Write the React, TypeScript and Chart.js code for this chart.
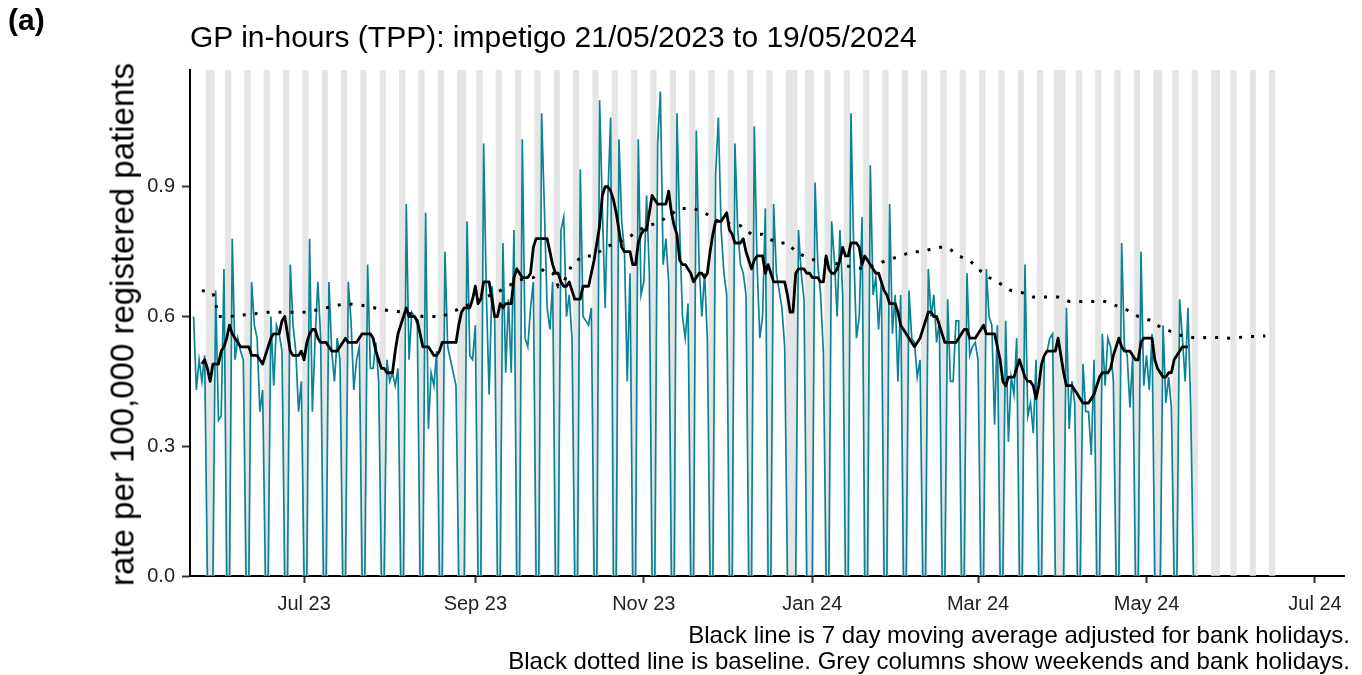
import React, { useEffect, useRef } from "react";
import { Chart, registerables } from "chart.js";

Chart.register(...registerables);

const FONT = "'Liberation Sans', Arial, Helvetica, sans-serif";

// Day index 0 = Sunday 21/05/2023
const dataStartDay = 1; // Monday 22/05/2023
// Daily rate per 100,000 (Mon..Sun rows)
const dailyRate = [
  0.60, 0.43, 0.50, 0.45, 0.51, 0, 0,
  0, 0.66, 0.36, 0.37, 0.71, 0, 0,
  0.78, 0.50, 0.55, 0.52, 0.50, 0, 0,
  0.68, 0.58, 0.55, 0.38, 0.43, 0, 0,
  0.60, 0.44, 0.58, 0.56, 0.52, 0, 0,
  0.72, 0.58, 0.52, 0.38, 0.45, 0, 0,
  0.78, 0.38, 0.55, 0.68, 0.55, 0, 0,
  0.68, 0.52, 0.45, 0.55, 0.50, 0, 0,
  0.68, 0.59, 0.43, 0.50, 0.53, 0, 0,
  0.72, 0.48, 0.48, 0.54, 0.45, 0, 0,
  0.50, 0.45, 0.47, 0.44, 0.48, 0, 0,
  0.86, 0.50, 0.61, 0.60, 0.58, 0, 0,
  0.84, 0.34, 0.47, 0.44, 0.52, 0, 0,
  0.75, 0.53, 0.50, 0.47, 0.44, 0, 0,
  0, 0.82, 0.51, 0.50, 0.58, 0, 0,
  1.00, 0.65, 0.42, 0.67, 0.60, 0, 0,
  0.77, 0.47, 0.64, 0.47, 0.80, 0, 0,
  1.01, 0.55, 0.53, 0.62, 0.68, 0, 0,
  1.07, 0.85, 0.62, 0.57, 0.68, 0, 0,
  0.80, 0.83, 0.60, 0.65, 0.55, 0, 0,
  0.94, 0.60, 0.59, 0.58, 0.62, 0, 0,
  1.10, 0.85, 0.62, 0.88, 1.06, 0, 0,
  1.01, 0.82, 0.75, 0.45, 0.70, 0, 0,
  1.01, 0.65, 0.68, 0.88, 0.70, 0, 0,
  1.00, 1.12, 0.72, 0.78, 0.68, 0, 0,
  1.07, 0.80, 0.60, 0.55, 0.63, 0, 0,
  1.03, 0.72, 0.60, 0.70, 0.55, 0, 0,
  0.93, 1.06, 0.80, 0.70, 0.65, 0, 0,
  1.00, 0.80, 0.72, 0.70, 0.65, 0, 0,
  1.04, 0.72, 0.55, 0.60, 0.85, 0, 0,
  0.86, 0.70, 0.66, 0.62, 0.53, 0, 0,
  0, 0, 0.80, 0.70, 0.64, 0, 0,
  0, 0.91, 0.72, 0.65, 0.52, 0, 0,
  0.82, 0.73, 0.60, 0.80, 0.65, 0, 0,
  1.07, 0.75, 0.55, 0.60, 0.83, 0, 0,
  0.95, 0.65, 0.69, 0.57, 0.68, 0, 0,
  0.86, 0.56, 0.65, 0.45, 0.65, 0, 0,
  0.66, 0.55, 0.54, 0.46, 0.50, 0, 0,
  0.71, 0.60, 0.65, 0.54, 0.59, 0, 0,
  0.64, 0.45, 0.45, 0.59, 0.59, 0, 0,
  0.70, 0.51, 0.53, 0.54, 0.50, 0, 0,
  0.71, 0.60, 0.58, 0.35, 0.58, 0, 0,
  0.59, 0.31, 0.46, 0.42, 0.55, 0, 0,
  0.72, 0.37, 0.40, 0.33, 0.50, 0, 0,
  0.51, 0.52, 0.55, 0.56, 0, 0, 0,
  0, 0.62, 0.34, 0.45, 0.40, 0, 0,
  0.49, 0.38, 0.38, 0.28, 0.50, 0, 0,
  0.56, 0.44, 0.55, 0.53, 0.45, 0, 0,
  0.77, 0.53, 0.51, 0.39, 0.51, 0, 0,
  0.75, 0.44, 0.51, 0.43, 0.56, 0, 0,
  0, 0.58, 0.40, 0.46, 0.39, 0, 0,
  0.64, 0.55, 0.45, 0.62, 0.39, 0, 0,
];

// 7 day moving average (adjusted for bank holidays), from day 4
const maStartDay = 4;
const movingAvg = [
  0.49, 0.50, 0.48, 0.45, 0.49, 0.49, 0.49,
  0.52, 0.53, 0.55, 0.58, 0.56, 0.55, 0.54,
  0.53, 0.53, 0.53, 0.53, 0.51, 0.51, 0.51,
  0.50, 0.49, 0.51, 0.53, 0.55, 0.56, 0.56,
  0.56, 0.59, 0.60, 0.56, 0.52, 0.51, 0.51,
  0.51, 0.52, 0.50, 0.54, 0.56, 0.57, 0.57,
  0.55, 0.54, 0.54, 0.54, 0.53, 0.52, 0.52,
  0.52, 0.53, 0.54, 0.55, 0.54, 0.54, 0.54,
  0.54, 0.55, 0.56, 0.56, 0.56, 0.56, 0.55,
  0.52, 0.50, 0.48, 0.48, 0.47, 0.47, 0.47,
  0.52, 0.56, 0.58, 0.60, 0.62, 0.60, 0.60,
  0.60, 0.59, 0.56, 0.53, 0.53, 0.53, 0.52,
  0.51, 0.51, 0.52, 0.54, 0.54, 0.54, 0.54,
  0.54, 0.54, 0.58, 0.61, 0.62, 0.62, 0.62,
  0.64, 0.67, 0.63, 0.64, 0.68, 0.68, 0.68,
  0.64, 0.60, 0.60, 0.63, 0.62, 0.63, 0.63,
  0.63, 0.69, 0.71, 0.70, 0.69, 0.69, 0.69,
  0.70, 0.76, 0.78, 0.78, 0.78, 0.78, 0.78,
  0.75, 0.72, 0.70, 0.70, 0.68, 0.67, 0.67,
  0.68, 0.66, 0.64, 0.64, 0.64, 0.67, 0.67,
  0.67, 0.70, 0.73, 0.77, 0.81, 0.88, 0.90,
  0.90, 0.89, 0.87, 0.84, 0.80, 0.76, 0.75,
  0.75, 0.75, 0.72, 0.72, 0.77, 0.79, 0.80,
  0.80, 0.84, 0.88, 0.87, 0.86, 0.86, 0.86,
  0.86, 0.89, 0.84, 0.81, 0.79, 0.73, 0.72,
  0.72, 0.71, 0.70, 0.68, 0.69, 0.70, 0.70,
  0.69, 0.70, 0.75, 0.79, 0.82, 0.82, 0.82,
  0.83, 0.84, 0.80, 0.79, 0.77, 0.77, 0.77,
  0.78, 0.75, 0.73, 0.71, 0.73, 0.74, 0.74,
  0.74, 0.70, 0.72, 0.70, 0.68, 0.68, 0.68,
  0.68, 0.68, 0.65, 0.61, 0.61, 0.70, 0.71,
  0.71, 0.71, 0.70, 0.70, 0.69, 0.69, 0.69,
  0.68, 0.68, 0.74, 0.71, 0.70, 0.70, 0.71,
  0.73, 0.76, 0.74, 0.74, 0.77, 0.77, 0.77,
  0.76, 0.72, 0.74, 0.73, 0.72, 0.71, 0.70,
  0.70, 0.68, 0.66, 0.65, 0.63, 0.63, 0.63,
  0.61, 0.58, 0.57, 0.56, 0.55, 0.54, 0.53,
  0.54, 0.55, 0.57, 0.59, 0.61, 0.61, 0.60,
  0.60, 0.58, 0.56, 0.54, 0.54, 0.54, 0.54,
  0.54, 0.55, 0.56, 0.57, 0.57, 0.55, 0.55,
  0.55, 0.56, 0.57, 0.58, 0.56, 0.56, 0.56,
  0.56, 0.53, 0.50, 0.45, 0.44, 0.46, 0.46,
  0.46, 0.48, 0.50, 0.48, 0.46, 0.45, 0.45,
  0.44, 0.41, 0.44, 0.49, 0.51, 0.52, 0.52,
  0.52, 0.52, 0.55, 0.51, 0.47, 0.44, 0.44,
  0.44, 0.43, 0.42, 0.41, 0.40, 0.40, 0.40,
  0.41, 0.42, 0.44, 0.46, 0.47, 0.47, 0.47,
  0.48, 0.51, 0.53, 0.55, 0.53, 0.52, 0.52,
  0.52, 0.51, 0.50, 0.50, 0.54, 0.55, 0.55,
  0.55, 0.55, 0.50, 0.48, 0.47, 0.46, 0.46,
  0.47, 0.47, 0.50, 0.51, 0.52, 0.53, 0.53,
  0.53,
];

// Baseline (dotted), read at these days
const baselineDays = [
  4, 8, 9, 10, 14, 21, 28, 35, 42, 49, 56, 63, 70, 77, 84, 91, 98, 105, 112, 119,
  124, 128, 131, 133, 135, 138, 142, 146, 150, 154, 158, 162, 166, 170, 177, 182, 186, 191,
  199, 203, 207, 212, 216, 219, 222, 226, 230, 235, 239, 244, 248, 252, 257, 261, 265, 270,
  274, 278, 282, 285, 289, 292, 297, 301, 305, 310, 314, 318, 322, 327, 331, 335, 339, 343,
  348, 351, 355, 359, 364, 370, 376, 382, 389,
];
const baselineValues = [
  0.66, 0.655, 0.63, 0.60, 0.60, 0.605, 0.61, 0.61, 0.61, 0.62, 0.63, 0.625, 0.615, 0.61, 0.60, 0.60, 0.62, 0.64, 0.66, 0.685,
  0.69, 0.71, 0.70, 0.67, 0.68, 0.72, 0.74, 0.74, 0.76, 0.77, 0.78, 0.80, 0.81, 0.82, 0.85, 0.85, 0.84, 0.82,
  0.81, 0.79, 0.79, 0.77, 0.77, 0.75, 0.74, 0.73, 0.73, 0.72, 0.715, 0.71, 0.72, 0.73, 0.74, 0.75, 0.75, 0.76,
  0.76, 0.74, 0.73, 0.71, 0.69, 0.68, 0.66, 0.655, 0.645, 0.645, 0.645, 0.635, 0.635, 0.635, 0.635, 0.625, 0.615, 0.60,
  0.59, 0.575, 0.565, 0.555, 0.55, 0.552, 0.55, 0.553, 0.555,
];

// Weekends and bank holidays (day index)
const greyDays = [
  6, 7, 8, 13, 14, 20, 21, 27, 28, 34, 35, 41, 42, 48, 49, 55, 56, 62, 63, 69, 70, 76, 77,
  83, 84, 90, 91, 97, 98, 99, 104, 105, 111, 112, 118, 119, 125, 126, 132, 133, 139, 140,
  146, 147, 153, 154, 160, 161, 167, 168, 174, 175, 181, 182, 188, 189, 195, 196, 202, 203,
  209, 210, 216, 217, 218, 219, 223, 224, 225, 230, 231, 237, 238, 244, 245, 251, 252, 258,
  259, 265, 266, 272, 273, 279, 280, 286, 287, 293, 294, 300, 301, 307, 308, 313, 314, 315,
  316, 321, 322, 328, 329, 335, 336, 342, 343, 349, 350, 351, 356, 357, 363, 364, 370, 371,
  372, 377, 378, 384, 385, 391, 392,
];

const tickDays = [41, 103, 164, 225, 285, 346, 407];
const tickLabels = ["Jul 23", "Sep 23", "Nov 23", "Jan 24", "Mar 24", "May 24", "Jul 24"];
const yTicks = [0, 0.3, 0.6, 0.9];

const X_MIN = -0.3;
const X_MAX = 417.5;
const Y_MAX = 1.17;

export default function App() {
  const ref = useRef<HTMLCanvasElement>(null);

  useEffect(() => {
    document.body.style.margin = "0";
    const canvas = ref.current;
    if (!canvas) return;
    const chart = new Chart(canvas, {
      type: "line",
      data: {
        datasets: [
          {
            type: "line",
            label: "baseline",
            data: baselineDays.map((d, i) => ({ x: d, y: baselineValues[i] })),
            borderColor: "#000000",
            borderWidth: 3,
            borderDash: [3, 9],
            borderCapStyle: "butt",
            pointRadius: 0,
            fill: false,
            tension: 0,
            order: 0,
          },
          {
            type: "line",
            label: "7 day moving average",
            data: movingAvg.map((v, i) => ({ x: maStartDay + i, y: v })),
            borderColor: "#000000",
            borderWidth: 2.8,
            borderJoinStyle: "round",
            pointRadius: 0,
            fill: false,
            tension: 0,
            order: 1,
          },
          {
            type: "line",
            label: "daily rate",
            data: dailyRate.map((v, i) => ({ x: dataStartDay + i, y: v })),
            borderColor: "#0B8396",
            borderWidth: 1.7,
            pointRadius: 0,
            fill: false,
            tension: 0,
            order: 2,
          },
          {
            type: "bar",
            label: "weekends and bank holidays",
            data: greyDays.map((d) => ({ x: d, y: Y_MAX })),
            backgroundColor: "#e5e5e5",
            borderWidth: 0,
            barPercentage: 1,
            categoryPercentage: 1,
            grouped: false,
            order: 10,
          } as any,
        ],
      },
      options: {
        responsive: false,
        animation: false,
        devicePixelRatio: 1,
        layout: { padding: { top: 70, right: 18, left: 0, bottom: 0 } },
        plugins: {
          legend: { display: false },
          tooltip: { enabled: false },
          title: { display: false },
        },
        scales: {
          x: {
            type: "linear",
            min: X_MIN,
            max: X_MAX,
            offset: false,
            afterBuildTicks: (s: any) => {
              s.ticks = tickDays.map((v) => ({ value: v }));
            },
            afterFit: (s: any) => {
              s.height = 99;
            },
            ticks: {
              autoSkip: false,
              maxRotation: 0,
              minRotation: 0,
              padding: 9,
              color: "#222222",
              font: { family: FONT, size: 20 },
              callback: (_v: any, i: number) => tickLabels[i],
            },
            grid: {
              display: true,
              offset: false,
              drawOnChartArea: false,
              drawTicks: true,
              tickLength: 7,
              tickWidth: 2,
              tickColor: "#333333",
            },
            border: { display: true, color: "#000000", width: 2 },
          },
          y: {
            type: "linear",
            min: 0,
            max: Y_MAX,
            afterBuildTicks: (s: any) => {
              s.ticks = yTicks.map((v) => ({ value: v }));
            },
            afterFit: (s: any) => {
              s.width = 190;
            },
            ticks: {
              padding: 7,
              color: "#222222",
              font: { family: FONT, size: 20 },
              callback: (v: any) => Number(v).toFixed(1),
            },
            grid: {
              display: true,
              offset: false,
              drawOnChartArea: false,
              drawTicks: true,
              tickLength: 8,
              tickWidth: 2,
              tickColor: "#333333",
            },
            border: { display: true, color: "#000000", width: 2 },
          },
        },
      } as any,
    });
    return () => chart.destroy();
  }, []);

  const base: React.CSSProperties = {
    position: "absolute",
    fontFamily: FONT,
    color: "#000",
    whiteSpace: "nowrap",
    margin: 0,
  };

  return (
    <div style={{ position: "relative", width: 1362, height: 675, background: "#fff", overflow: "hidden" }}>
      <canvas
        ref={ref}
        width={1362}
        height={675}
        style={{ position: "absolute", left: 0, top: 0, width: 1362, height: 675 }}
      />
      <div style={{ ...base, left: 8, top: 5, fontSize: 30, fontWeight: "bold", lineHeight: "30px" }}>(a)</div>
      <div style={{ ...base, left: 190, top: 22, fontSize: 30, lineHeight: "30px" }}>
        GP in-hours (TPP): impetigo 21/05/2023 to 19/05/2024
      </div>
      <div
        style={{
          ...base,
          left: 121.6 - 300,
          top: 324 - 16.5,
          width: 600,
          height: 33,
          fontSize: 33,
          lineHeight: "33px",
          textAlign: "center",
          transform: "rotate(-90deg)",
        }}
      >
        rate per 100,000 registered patients
      </div>
      <div style={{ ...base, right: 12, top: 622, fontSize: 24, lineHeight: "26px", textAlign: "right" }}>
        Black line is 7 day moving average adjusted for bank holidays.
        <br />
        Black dotted line is baseline. Grey columns show weekends and bank holidays.
      </div>
    </div>
  );
}
